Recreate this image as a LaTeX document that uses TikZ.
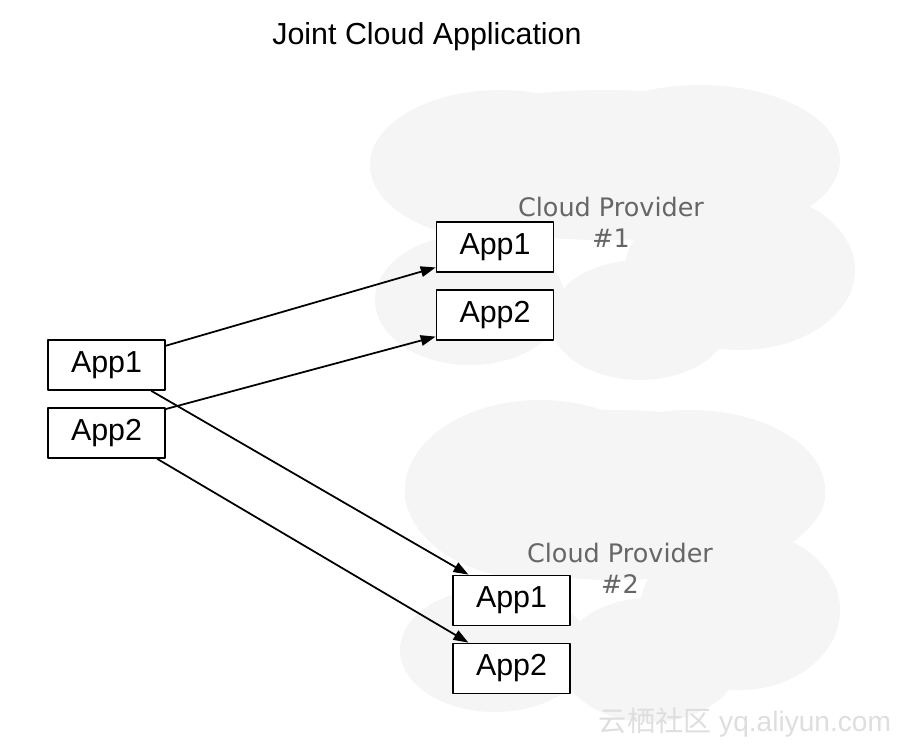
\documentclass[tikz,border=0pt]{standalone}
\usepackage{fontspec}
\setmainfont{Liberation Sans}
\newfontfamily\cloudfont{DejaVu Sans}
\newfontfamily\cjkfont{Noto Sans CJK SC}
\usetikzlibrary{arrows.meta}

\begin{document}
\begin{tikzpicture}[x=0.02cm,y=-0.02cm,line cap=round,line join=round,
  every node/.style={font=\fontsize{17.3}{20}\selectfont},
  app/.style={draw,line width=1pt,fill=white,minimum width=2.34cm,minimum height=1cm,inner sep=0pt},
  link/.style={line width=1pt,-{Triangle[length=8.5pt,width=6pt]}},
  cloud/.style={fill=black!4,draw=none},
  provider/.style={align=center,text=black!60,font=\cloudfont\fontsize{14.5}{17.6}\selectfont}]
  \useasboundingbox (0,0) rectangle (906,751);
  % clouds
  \foreach \cx/\cy/\rx/\ry in {500/165/130/75,700/160/140/75,605/165/230/75,470/300/95/65,640/320/90/60,740/270/115/80}
    \fill[cloud] (\cx,\cy) ellipse [x radius=\rx, y radius=\ry];
  \foreach \cx/\cy/\rx/\ry in {540/490/135/90,690/490/135/80,615/495/210/85,495/650/95/62,650/660/90/62,740/610/100/80}
    \fill[cloud] (\cx,\cy) ellipse [x radius=\rx, y radius=\ry];
  \node (title) at (427,37) {Joint Cloud Application};
  \node[provider] (p1) at (611,222) {Cloud Provider\\\#1};
  \node[provider] (p2) at (620,568) {Cloud Provider\\\#2};
  % apps
  \node[app] (l1) at (106.5,365) {App1};
  \node[app] (l2) at (106.5,433) {App2};
  \node[app] (a1) at (495,247) {App1};
  \node[app] (a2) at (495,315) {App2};
  \node[app] (b1) at (511.5,600.5) {App1};
  \node[app] (b2) at (511.5,668.5) {App2};
  \draw[link] (l1.18) -- (a1.199);
  \draw[link] (l2.22) -- (a2.200);
  \draw[link] (l1.330) -- (b1.149);
  \draw[link] (l2.333) -- (b2.149);
  \node[text=black!13,font=\fontsize{16}{18}\selectfont] (mark) at (745,723) {{\cjkfont 云栖社区} yq.aliyun.com};
\end{tikzpicture}
\end{document}
